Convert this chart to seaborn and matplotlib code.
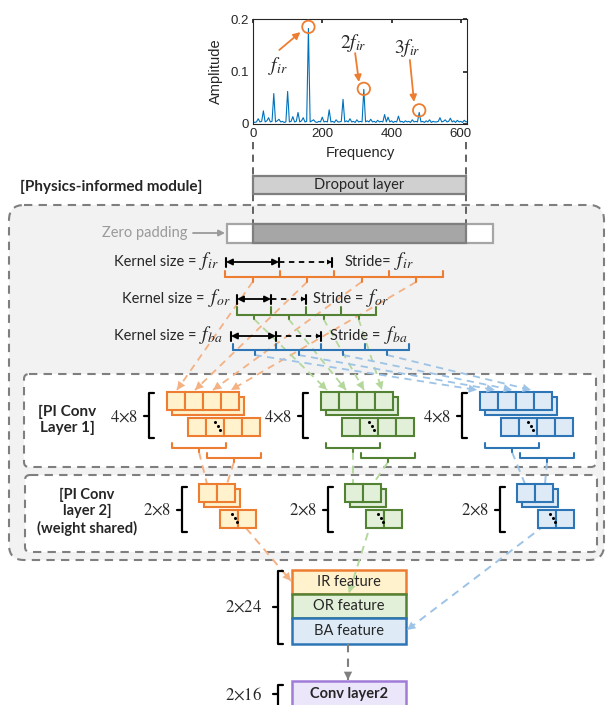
import matplotlib.pyplot as plt
import matplotlib.patches as mpatches
import seaborn as sns

# spectrum (5 Hz grid)
freq = list(range(0, 625, 5))
amplitude = [
    0.004, 0.003, 0.004, 0.010, 0.004, 0.005, 0.025, 0.004, 0.006, 0.012,
    0.004, 0.005, 0.058, 0.004, 0.006, 0.009, 0.004, 0.005, 0.003, 0.004,
    0.062, 0.004, 0.005, 0.014, 0.004, 0.005, 0.022, 0.004, 0.006, 0.012,
    0.004, 0.005, 0.182, 0.004, 0.006, 0.008, 0.004, 0.003, 0.005, 0.004,
    0.013, 0.004, 0.005, 0.004, 0.027, 0.004, 0.005, 0.003, 0.008, 0.004,
    0.004, 0.005, 0.047, 0.004, 0.006, 0.004, 0.010, 0.004, 0.005, 0.003,
    0.008, 0.004, 0.005, 0.004, 0.066, 0.004, 0.006, 0.004, 0.009, 0.004,
    0.005, 0.003, 0.007, 0.004, 0.005, 0.004, 0.018, 0.004, 0.013, 0.004,
    0.006, 0.003, 0.005, 0.004, 0.015, 0.004, 0.005, 0.003, 0.006, 0.004,
    0.005, 0.003, 0.008, 0.004, 0.005, 0.004, 0.022, 0.004, 0.005, 0.003,
    0.006, 0.004, 0.008, 0.003, 0.005, 0.004, 0.004, 0.005, 0.012, 0.004,
    0.005, 0.008, 0.004, 0.005, 0.011, 0.004, 0.006, 0.003, 0.007, 0.004,
    0.005, 0.003, 0.007, 0.004, 0.005,
]
peak_freq = [160, 320, 480]
peak_amp = [0.185, 0.067, 0.026]
peak_labels = [r"$f_{ir}$", r"$2f_{ir}$", r"$3f_{ir}$"]

kernel_names = ["ir", "or", "ba"]
layer1_shape = r"$4{\times}8$"
layer2_shape = r"$2{\times}8$"
feature_names = ["IR feature", "OR feature", "BA feature"]

OR_E, OR_F, OR_L = "#ed7d31", "#fff2cc", "#f4b183"
GR_E, GR_F, GR_L = "#548235", "#e2f0d9", "#b4d89c"
BL_E, BL_F, BL_L = "#2e75b6", "#deebf7", "#9dc3e6"
GRAY = "#7f7f7f"

sns.set_theme(style="white")
plt.rcParams["font.family"] = ["Lato", "DejaVu Sans"]
plt.rcParams["mathtext.fontset"] = "stix"

fig = plt.figure(figsize=(6.08, 7.05), dpi=100)
ax = fig.add_axes([0, 0, 1, 1])
ax.set_xlim(0, 608)
ax.set_ylim(705, 0)
ax.axis("off")


def box(x0, y0, x1, y1, fc, ec, lw=1.5, ls="-", r=0, z=2):
    if r:
        p = mpatches.FancyBboxPatch((x0, y0), x1 - x0, y1 - y0,
                                    boxstyle=f"round,pad=0,rounding_size={r}",
                                    fc=fc, ec=ec, lw=lw, ls=ls, zorder=z)
    else:
        p = mpatches.Rectangle((x0, y0), x1 - x0, y1 - y0, fc=fc, ec=ec,
                               lw=lw, ls=ls, zorder=z)
    ax.add_patch(p)


def dash_arrow(x0, y0, x1, y1, c, lw=1.4, head=True, z=3):
    ax.plot([x0, x1], [y0, y1], color=c, lw=lw, ls=(0, (4, 3)), zorder=z)
    if head:
        ax.annotate("", xy=(x1, y1),
                    xytext=(x1 - (x1 - x0) * 0.02, y1 - (y1 - y0) * 0.02),
                    arrowprops=dict(arrowstyle="-|>,head_length=0.6,head_width=0.3",
                                    color=c, lw=0, shrinkA=0, shrinkB=0,
                                    mutation_scale=10), zorder=z + 2)


def brace(x, y0, y1, ym):
    ax.plot([x + 5, x, x, x + 5], [y0, y0, y1, y1], color="black", lw=1.6, zorder=4)
    ax.plot([x - 5, x], [ym, ym], color="black", lw=1.6, zorder=4)


def chain(bounds, y_up, y_line, y_tick, c):
    ax.plot([bounds[0], bounds[-1]], [y_line, y_line], color=c, lw=1.5, zorder=4)
    for b in bounds:
        ax.plot([b, b], [y_up, y_line], color=c, lw=1.5, zorder=4)
    mids = []
    for a, b in zip(bounds[:-1], bounds[1:]):
        m = (a + b) / 2
        mids.append(m)
        ax.plot([m, m], [y_line, y_tick], color=c, lw=1.5, zorder=4)
    return mids


def under(x0, x1, y_up, y_line, y_tick, c):
    ax.plot([x0, x0, x1, x1], [y_up, y_line, y_line, y_up], color=c, lw=1.5, zorder=4)
    m = (x0 + x1) / 2
    ax.plot([m, m], [y_line, y_tick], color=c, lw=1.5, zorder=4)


def stack(x0, y0, n, ec, fc, cell=18):
    box(x0 + 5, y0 + 5, x0 + 5 + n * cell, y0 + 5 + cell, fc, ec, z=4)
    for i in range(n):
        box(x0 + i * cell, y0, x0 + (i + 1) * cell, y0 + cell, fc, ec, z=4.2)
    bx, by = x0 + 21, y0 + 26
    for i in range(n):
        box(bx + i * cell, by, bx + (i + 1) * cell, by + cell, fc, ec, z=4.2)
    dx = 27 if n == 4 else 12
    ax.plot([bx + dx, bx + dx + 2.5, bx + dx + 5], [by + 4, by + 8, by + 12], "o",
            color="black", ms=1.2, zorder=5)


def kernel_arrow(x0, x1, x2, y):
    ax.annotate("", xy=(x1, y), xytext=(x0, y),
                arrowprops=dict(arrowstyle="<|-|>", color="black", lw=1.3,
                                shrinkA=0, shrinkB=0, mutation_scale=9), zorder=6)
    ax.plot([x1, x2], [y, y], color="black", lw=1.3, ls=(0, (3, 2.5)), zorder=6)
    ax.annotate("", xy=(x2, y), xytext=(x2 - 3, y),
                arrowprops=dict(arrowstyle="-|>", color="black", lw=0,
                                shrinkA=0, shrinkB=0, mutation_scale=9), zorder=6)
    for x in (x0, x1, x2):
        ax.plot([x, x], [y - 4.5, y + 4.5], color="black", lw=1.5, zorder=6)


# ---------------- spectrum ----------------
sax = fig.add_axes([253 / 608, 1 - 124 / 705, (467 - 253) / 608, (124 - 19) / 705])
sns.lineplot(x=freq, y=amplitude, ax=sax, color="#0072bd", lw=0.8)
sax.set_xlim(0, 618)
sax.set_ylim(0, 0.2)
sax.set_xticks([0, 200, 400, 600])
sax.set_yticks([0, 0.1, 0.2])
sax.set_yticklabels(["0", "0.1", "0.2"])
sax.tick_params(direction="in", length=3, top=True, right=True, labelsize=9.5,
                pad=3, colors="#262626")
for lab in sax.get_xticklabels() + sax.get_yticklabels():
    lab.set_family("Liberation Sans")
for s in sax.spines.values():
    s.set_color("#262626")
    s.set_linewidth(0.8)
sax.set_xlabel("Frequency", fontsize=10.5, family="Liberation Sans", labelpad=4)
sax.set_ylabel("Amplitude", fontsize=10.5, family="Liberation Sans", labelpad=5)
sax.scatter(peak_freq, peak_amp, s=80, facecolors="none", edgecolors=OR_E,
            lw=1.3, zorder=5, clip_on=False)
label_xy = [(73, 0.110), (289, 0.155), (447, 0.145)]
arrow_from = [(76, 0.141), (295, 0.135), (453, 0.122)]
arrow_to = [(137, 0.175), (306, 0.080), (465, 0.042)]
for lab, lxy, a0, a1 in zip(peak_labels, label_xy, arrow_from, arrow_to):
    sax.text(lxy[0], lxy[1], lab, fontsize=14, ha="center", va="center")
    sax.annotate("", xy=a1, xytext=a0,
                 arrowprops=dict(arrowstyle="-|>", color=OR_E, lw=1.3,
                                 shrinkA=0, shrinkB=0, mutation_scale=10),
                 annotation_clip=False)

# ---------------- top part ----------------
for x in (253, 466):
    ax.plot([x, x], [142, 176], color="#555555", lw=1.3, ls=(0, (4, 3)), zorder=1)
    ax.plot([x, x], [194, 224], color="#555555", lw=1.3, ls=(0, (4, 3)), zorder=1)
box(253, 176, 466, 194, "#d0d0d0", GRAY, lw=1.6)
ax.text(359.5, 185, "Dropout layer", ha="center", va="center", fontsize=10.5, zorder=6)
ax.text(20, 187, "[Physics-informed module]", ha="left", va="center", fontsize=11,
        fontweight="bold", zorder=6)

box(9, 205, 604, 560, "#f2f2f2", GRAY, lw=1.5, ls=(0, (4, 3)), r=15, z=0.5)
box(24, 374, 596, 467, "white", GRAY, lw=1.5, ls=(0, (4, 3)), r=5, z=1)
box(25, 475, 597, 552, "white", GRAY, lw=1.5, ls=(0, (4, 3)), r=5, z=1)

box(227, 224, 493, 243, "white", "#a6a6a6", lw=1.6, z=2)
box(253, 224, 466, 243, "#a6a6a6", GRAY, lw=1.6, z=2.1)
ax.text(187, 233, "Zero padding", ha="right", va="center", fontsize=10.5,
        color="#9a9a9a", zorder=6)
ax.annotate("", xy=(225, 233), xytext=(193, 233),
            arrowprops=dict(arrowstyle="-|>", color="#9a9a9a", lw=1.3,
                            shrinkA=0, shrinkB=0, mutation_scale=9), zorder=6)

# kernel rows: text start, math centre, stride text start, stride math centre
kernel_rows = [
    dict(y=262, x=(226, 279, 332), kx=114, km=209, sx=345, sm=404, eq="Stride=",
         bounds=[225, 280, 334, 389, 443], by=(271, 277, 282), c=OR_E, lc=OR_L,
         targets=[177, 195, 213, 231]),
    dict(y=299, x=(237, 271, 306), kx=122, km=219, sx=313, sm=377, eq="Stride =",
         bounds=[237, 271, 306, 341, 376], by=(307, 315, 319), c=GR_E, lc=GR_L,
         targets=[327, 346, 364, 382]),
    dict(y=336, x=(231, 276, 321), kx=114, km=211, sx=330, sm=396, eq="Stride =",
         bounds=[233, 276, 321, 365, 409], by=(344, 350, 355), c=BL_E, lc=BL_L,
         targets=[477, 495, 512, 531]),
]
for name, row in zip(kernel_names, kernel_rows):
    y = row["y"]
    ax.text(row["kx"], y, "Kernel size =", ha="left", va="center",
            fontsize=10.5, zorder=6)
    ax.text(row["km"], y - 1, "$f_{%s}$" % name, ha="center", va="center",
            fontsize=14, zorder=6)
    ax.text(row["sx"], y, row["eq"], ha="left", va="center", fontsize=10.5, zorder=6)
    ax.text(row["sm"], y - 1, "$f_{%s}$" % name, ha="center", va="center",
            fontsize=14, zorder=6)
    kernel_arrow(*row["x"], y)
    mids = chain(row["bounds"], *row["by"], row["c"])
    for m, t in zip(mids, row["targets"]):
        dash_arrow(m, row["by"][2], t, 390, row["lc"], lw=1.3)

# ---------------- PI conv layers ----------------
ax.text(67, 420, "[PI Conv\nLayer 1]", ha="center", va="center", fontsize=11,
        fontweight="bold", linespacing=1.2, zorder=6)
ax.text(87, 512, "[PI Conv\nlayer 2]\n(weight shared)", ha="center", va="center",
        fontsize=10.5, fontweight="bold", linespacing=1.2, zorder=6)

blocks = [(167, 199, OR_E, OR_F, OR_L), (321, 345, GR_E, GR_F, GR_L),
          (480, 517, BL_E, BL_F, BL_L)]
for x1, x2, ec, fc, lc in blocks:
    # layer 1
    ax.text(x1 - 43, 417, layer1_shape, ha="center", va="center", fontsize=12, zorder=6)
    brace(x1 - 18, 393, 438, 416)
    stack(x1, 392, 4, ec, fc)
    under(x1 + 5, x1 + 59, 443, 448, 452, ec)
    under(x1 + 40, x1 + 94, 453, 458, 462, ec)
    dash_arrow(x1 + 32, 452, x2 + 8, 484, lc, head=False)
    dash_arrow(x1 + 67, 462, x2 + 28, 484, lc, head=False)
    # layer 2
    ax.text(x2 - 42, 510, layer2_shape, ha="center", va="center", fontsize=12, zorder=6)
    brace(x2 - 17, 487, 532, 510)
    stack(x2, 484, 2, ec, fc)

# ---------------- features ----------------
feat_box = [(570, 594), (594, 618), (618, 644)]
for (y0, y1), name, ec, fc in zip(feat_box, feature_names, [OR_E, GR_E, BL_E],
                                  [OR_F, GR_F, BL_F]):
    box(292, y0, 406, y1, fc, ec, lw=1.8, z=2)
    ax.text(349, (y0 + y1) / 2, name, ha="center", va="center", fontsize=10.5, zorder=6)
ax.text(244, 607, r"$2{\times}24$", ha="center", va="center", fontsize=12)
brace(278, 571, 644, 607)
ax.text(244, 694, r"$2{\times}16$", ha="center", va="center", fontsize=12)
brace(278, 685, 720, 694)
box(292, 681, 406, 715, "#ece6fb", "#a07cd8", lw=1.8, z=2)
ax.text(349, 694, "Conv layer2", ha="center", va="center", fontsize=10.5,
        fontweight="bold", zorder=6)
dash_arrow(348, 644, 348, 680, GRAY, lw=1.5)

dash_arrow(246, 528, 291, 581, OR_L, lw=1.4)
dash_arrow(372, 520, 349, 593, GR_L, lw=1.4)
dash_arrow(545, 525, 407, 630, BL_L, lw=1.4)

fig.savefig("out.png", dpi=100)
